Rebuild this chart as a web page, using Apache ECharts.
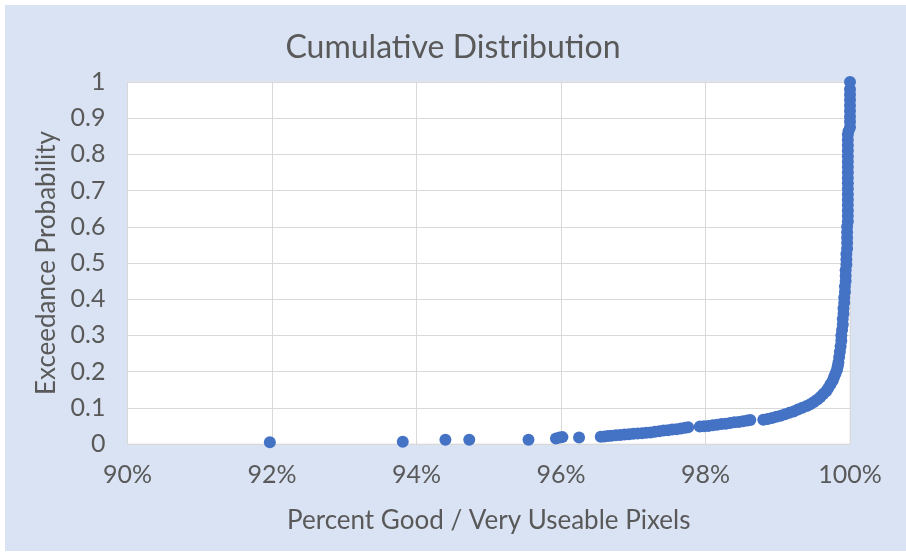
<!DOCTYPE html>
<html>
<head>
<meta charset="utf-8">
<script src="https://cdn.jsdelivr.net/npm/echarts@6/dist/echarts.min.js"></script>
<style>
html,body{margin:0;padding:0;background:#fff;}
#chart{width:906px;height:557px;}
</style>
</head>
<body>
<div id="chart"></div>
<script>
var chartTitle = 'Cumulative Distribution';
var xAxisTitle = 'Percent Good / Very Useable Pixels';
var yAxisTitle = 'Exceedance Probability';

// percent good pixels (x)
var pctGood = [
  91.97, 93.81, 94.40, 94.73, 95.55, 95.93, 95.98, 96.02, 96.25,
  96.55, 96.60, 96.65, 96.70, 96.76, 96.82, 96.88, 96.94, 97.00, 97.06,
  97.12, 97.18, 97.24, 97.30, 97.36, 97.42, 97.48, 97.54, 97.60, 97.66,
  97.72, 97.76,
  97.92, 97.98, 98.04, 98.10, 98.16, 98.22, 98.28, 98.34, 98.40, 98.46,
  98.52, 98.58, 98.62,
  98.80, 98.86, 98.92, 98.98, 99.04, 99.10, 99.16, 99.22, 99.28, 99.34,
  99.40, 99.45, 99.50, 99.55, 99.59, 99.63, 99.67, 99.70, 99.73, 99.76,
  99.78, 99.80, 99.82, 99.83, 99.84, 99.85, 99.86, 99.87, 99.88, 99.88,
  99.89, 99.90, 99.90, 99.91, 99.91, 99.92, 99.92, 99.93, 99.93, 99.94,
  99.94, 99.94, 99.95, 99.95, 99.95, 99.96, 99.96, 99.96, 99.96, 99.96,
  99.97, 99.97, 99.97, 99.97, 99.97, 99.97, 99.97, 99.97, 99.97, 99.97,
  99.97, 99.97, 99.97, 99.97, 99.97, 99.97, 99.97, 99.98,
  100.0, 100.0, 100.0, 100.0, 100.0, 100.0, 100.0, 100.0, 100.0
];
// exceedance probability (y)
var exceedProb = [
  0.005, 0.006, 0.012, 0.012, 0.012, 0.015, 0.018, 0.019, 0.018,
  0.020, 0.021, 0.022, 0.023, 0.024, 0.025, 0.026, 0.027, 0.028, 0.029,
  0.030, 0.031, 0.032, 0.034, 0.035, 0.037, 0.038, 0.040, 0.041, 0.043,
  0.045, 0.046,
  0.048, 0.049, 0.050, 0.052, 0.053, 0.055, 0.056, 0.058, 0.060, 0.061,
  0.063, 0.065, 0.066,
  0.067, 0.069, 0.072, 0.075, 0.078, 0.082, 0.086, 0.090, 0.095, 0.100,
  0.105, 0.110, 0.116, 0.123, 0.130, 0.138, 0.146, 0.155, 0.165, 0.175,
  0.185, 0.195, 0.205, 0.215, 0.225, 0.240, 0.255, 0.270, 0.285, 0.300,
  0.315, 0.330, 0.345, 0.360, 0.375, 0.390, 0.405, 0.420, 0.435, 0.450,
  0.465, 0.480, 0.495, 0.510, 0.525, 0.540, 0.555, 0.570, 0.585, 0.600,
  0.615, 0.630, 0.645, 0.660, 0.675, 0.690, 0.705, 0.720, 0.735, 0.750,
  0.765, 0.780, 0.795, 0.810, 0.825, 0.840, 0.855, 0.865,
  0.875, 0.890, 0.905, 0.920, 0.935, 0.950, 0.965, 0.980, 1.0
];

var points = pctGood.map(function (x, i) { return [x, exceedProb[i]]; });

var FONT = 'Lato';
var TXT = '#595959';
var chart = echarts.init(document.getElementById('chart'), null, {renderer: 'canvas'});
chart.setOption({
  backgroundColor: '#ffffff',
  animation: false,
  graphic: [{
    type: 'rect', z: -10, silent: true,
    shape: {x: 5, y: 5, width: 901, height: 546},
    style: {fill: '#dae3f3'}
  }],
  title: {
    text: chartTitle, left: 'center', top: 27,
    textStyle: {fontFamily: FONT, fontSize: 32, fontWeight: 'normal', color: TXT}
  },
  grid: {
    left: 127.5, right: 56, top: 82, bottom: 113,
    show: true, backgroundColor: '#ffffff', borderColor: '#e6e6e6', borderWidth: 1
  },
  xAxis: {
    type: 'value', min: 90, max: 100, interval: 2,
    name: xAxisTitle, nameLocation: 'middle', nameGap: 64,
    nameTextStyle: {fontFamily: FONT, fontSize: 26, color: TXT},
    axisLine: {show: true, lineStyle: {color: '#d9d9d9'}},
    axisTick: {show: false},
    axisLabel: {formatter: '{value}%', fontFamily: FONT, fontSize: 25, color: TXT, margin: 18},
    splitLine: {show: true, lineStyle: {color: '#d9d9d9'}}
  },
  yAxis: {
    type: 'value', min: 0, max: 1, interval: 0.1,
    name: yAxisTitle, nameLocation: 'middle', nameGap: 67,
    nameTextStyle: {fontFamily: FONT, fontSize: 26, color: TXT},
    axisLine: {show: false},
    axisTick: {show: false},
    axisLabel: {
      fontFamily: FONT, fontSize: 25, color: TXT, margin: 22,
      formatter: function (v) { return String(Math.round(v * 10) / 10); }
    },
    splitLine: {show: true, lineStyle: {color: '#d9d9d9'}}
  },
  series: [{
    type: 'scatter',
    data: points,
    symbol: 'circle',
    symbolSize: 12,
    itemStyle: {color: '#4472c4', opacity: 1},
    clip: false
  }]
});
</script>
</body>
</html>
